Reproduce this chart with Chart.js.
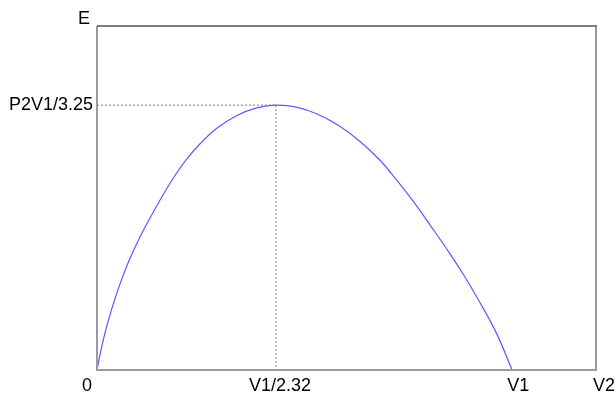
<!DOCTYPE html>
<html>
<head>
<meta charset="utf-8">
<script src="https://cdn.jsdelivr.net/npm/chart.js@4.4.0/dist/chart.umd.min.js"></script>
<style>
  html, body { margin: 0; padding: 0; background: #fff; }
  #wrap { width: 616px; height: 398px; }
</style>
</head>
<body>
<div id="wrap"><canvas id="c" width="616" height="398"></canvas></div>
<script>
  // curve (x in units of V1, E relative to axis top)
  const curveX = [0, 0.011, 0.027, 0.051, 0.075, 0.1, 0.125, 0.15, 0.184, 0.216, 0.25, 0.288, 0.337, 0.385, 0.431,
                  0.48, 0.53, 0.58, 0.63, 0.68, 0.722, 0.762, 0.802, 0.843, 0.883, 0.923, 0.963, 1.0];
  const curveE = [0, 0.066, 0.143, 0.235, 0.312, 0.378, 0.436, 0.49, 0.558, 0.613, 0.66, 0.702, 0.74, 0.762, 0.77,
                  0.764, 0.744, 0.712, 0.668, 0.612, 0.552, 0.49, 0.422, 0.351, 0.277, 0.195, 0.105, 0];

  const peak = [0.431, 0.77];

  const xTickLabels = ['0', 'V1/2.32', 'V1', 'V2'];
  const xTickValues = [0, 0.431, 1, 1.202];
  const xTickShift = [-10, 4, 6, 8];
  const yTickLabels = ['P2V1/3.25', 'E'];
  const yTickValues = [0.77, 1];

  const curve = curveX.map(function(x, i) { return { x: x, y: curveE[i] }; });

  const framePlugin = {
    id: 'frame',
    afterDraw: function(chart) {
      const ctx = chart.ctx;
      const a = chart.chartArea;
      const xs = chart.scales.x, ys = chart.scales.y;
      ctx.save();
      ctx.lineWidth = 2;
      ctx.strokeStyle = '#9a9a9a';
      ctx.beginPath();
      ctx.moveTo(a.left, a.top); ctx.lineTo(a.left, a.bottom);
      ctx.lineTo(a.right, a.bottom); ctx.lineTo(a.right, a.top);
      ctx.stroke();
      ctx.strokeStyle = '#555';
      ctx.lineWidth = 1.5;
      ctx.beginPath();
      ctx.moveTo(a.left, a.top); ctx.lineTo(a.right + 1, a.top);
      ctx.stroke();

      ctx.fillStyle = '#000';
      ctx.font = '18px "Liberation Sans", Arial, sans-serif';
      ctx.textBaseline = 'middle';
      ctx.textAlign = 'center';
      xTickValues.forEach(function(v, i) {
        ctx.fillText(xTickLabels[i], xs.getPixelForValue(v) + xTickShift[i], a.bottom + 16);
      });
      ctx.textAlign = 'right';
      ctx.fillText(yTickLabels[0], a.left - 4, ys.getPixelForValue(yTickValues[0]));
      ctx.fillText(yTickLabels[1], a.left - 7, ys.getPixelForValue(yTickValues[1]) - 7);
      ctx.restore();
    }
  };

  const config = {
    type: 'scatter',
    data: {
      datasets: [
        {
          data: [{ x: 0, y: peak[1] }, { x: peak[0], y: peak[1] }],
          showLine: true, borderColor: '#777', borderWidth: 1, borderDash: [2, 2],
          pointRadius: 0
        },
        {
          data: [{ x: peak[0], y: peak[1] }, { x: peak[0], y: 0 }],
          showLine: true, borderColor: '#777', borderWidth: 1, borderDash: [2, 2],
          pointRadius: 0
        },
        {
          data: curve,
          showLine: true, borderColor: '#5a5aff', borderWidth: 1.2,
          tension: 0.4, pointRadius: 0
        }
      ]
    },
    options: {
      responsive: false,
      animation: false,
      layout: { padding: { left: 97, top: 26, right: 20, bottom: 28 } },
      plugins: { legend: { display: false }, tooltip: { enabled: false } },
      scales: {
        x: { type: 'linear', min: 0, max: 1.202, display: false },
        y: { type: 'linear', min: 0, max: 1, display: false }
      }
    },
    plugins: [framePlugin]
  };

  window.onload = function() {
    const ctx = document.getElementById('c').getContext('2d');
    new Chart(ctx, config);
  };
</script>
</body>
</html>
